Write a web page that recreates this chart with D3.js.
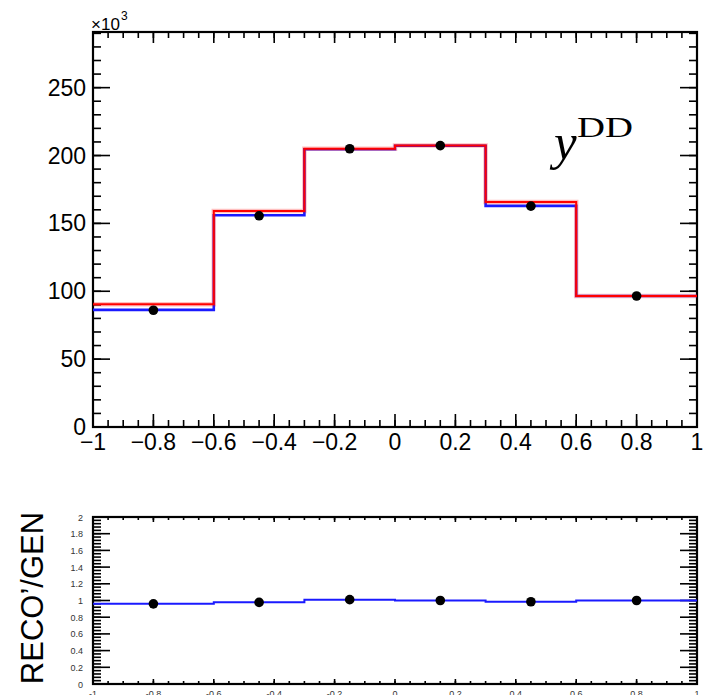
<!DOCTYPE html>
<html>
<head>
<meta charset="utf-8">
<script src="https://cdn.jsdelivr.net/npm/d3@7"></script>
<style>
html,body{margin:0;padding:0;background:#fff;}
svg{display:block;}
</style>
</head>
<body>
<svg id="chart" width="719" height="695"></svg>
<script>
// ---- data ----
const binEdges = [-1, -0.6, -0.3, 0, 0.3, 0.6, 1];
const binCenters = [-0.8, -0.45, -0.15, 0.15, 0.45, 0.8];
const genValues = [90.4, 159.2, 204.9, 207.3, 165.8, 96.5];     // red (x10^3)
const recoValues = [86.3, 156.0, 204.6, 207.2, 162.9, 96.5];    // blue (x10^3)
const dataPoints = [86.0, 155.6, 205.0, 207.3, 162.7, 96.5];    // black points (x10^3)
const ratioValues = [0.96, 0.98, 1.01, 1.00, 0.985, 1.00];      // blue ratio line
const ratioPoints = [0.96, 0.977, 1.01, 1.00, 0.985, 1.00];     // black ratio points
const xTickLabels = ["−1", "−0.8", "−0.6", "−0.4", "−0.2", "0", "0.2", "0.4", "0.6", "0.8", "1"];
const xTickValues = [-1, -0.8, -0.6, -0.4, -0.2, 0, 0.2, 0.4, 0.6, 0.8, 1];
const yTopTicks = [0, 50, 100, 150, 200, 250];
const yBotTicks = [0, 0.2, 0.4, 0.6, 0.8, 1, 1.2, 1.4, 1.6, 1.8, 2];
const yBotTickLabels = ["0", "0.2", "0.4", "0.6", "0.8", "1", "1.2", "1.4", "1.6", "1.8", "2"];
const yTopMax = 291;

const svg = d3.select("#chart");
const FONT = "'Liberation Sans', Arial, Helvetica, sans-serif";

const L = 93, R = 697;
const top1 = 32, bot1 = 427;
const top2 = 517, bot2 = 684;

const x = d3.scaleLinear().domain([-1, 1]).range([L, R]);
const y1 = d3.scaleLinear().domain([0, yTopMax]).range([bot1, top1]);
const y2 = d3.scaleLinear().domain([0, 2]).range([bot2, top2]);

function minorTicks(domainMin, domainMax, step) {
  const n = Math.round((domainMax - domainMin) / step);
  return d3.range(n + 1).map(i => domainMin + i * step);
}

function stepPath(values, ys) {
  let p = `M${x(binEdges[0])},${ys(values[0])}`;
  values.forEach((v, i) => {
    if (i > 0) p += `V${ys(v)}`;
    p += `H${x(binEdges[i + 1])}`;
  });
  return p;
}

function drawFrame(g, yScale, yT, yB, opts) {
  const ticks = g.append("g").attr("stroke", "#000").attr("stroke-width", 1.6);
  minorTicks(yScale.domain()[0], yScale.domain()[1], opts.yMinor).forEach(v => {
    const yy = yScale(v);
    ticks.append("line").attr("x1", L).attr("x2", L + opts.yMinLen).attr("y1", yy).attr("y2", yy);
    ticks.append("line").attr("x1", R).attr("x2", R - opts.yMinLen).attr("y1", yy).attr("y2", yy);
  });
  opts.yMajor.forEach(v => {
    const yy = yScale(v);
    ticks.append("line").attr("x1", L).attr("x2", L + opts.yMajLen).attr("y1", yy).attr("y2", yy);
    ticks.append("line").attr("x1", R).attr("x2", R - opts.yMajLen).attr("y1", yy).attr("y2", yy);
  });
  minorTicks(-1, 1, 0.05).forEach(v => {
    const xx = x(v);
    ticks.append("line").attr("x1", xx).attr("x2", xx).attr("y1", yB).attr("y2", yB - opts.xMinLen);
    ticks.append("line").attr("x1", xx).attr("x2", xx).attr("y1", yT).attr("y2", yT + opts.xMinLenTop);
  });
  xTickValues.forEach(v => {
    const xx = x(v);
    ticks.append("line").attr("x1", xx).attr("x2", xx).attr("y1", yB).attr("y2", yB - opts.xMajLen);
    ticks.append("line").attr("x1", xx).attr("x2", xx).attr("y1", yT).attr("y2", yT + opts.xMajLenTop);
  });
  g.append("rect").attr("x", L).attr("y", yT).attr("width", R - L).attr("height", yB - yT)
    .attr("fill", "none").attr("stroke", "#000").attr("stroke-width", 2.2);
}

// ---------- top panel ----------
const g1 = svg.append("g");
drawFrame(g1, y1, top1, bot1, {
  yMinor: 10, yMajor: yTopTicks, yMinLen: 8, yMajLen: 17,
  xMinLen: 7, xMajLen: 13, xMinLenTop: 6, xMajLenTop: 11
});

g1.append("g").selectAll("text").data(yTopTicks).join("text")
  .attr("x", 86).attr("y", d => y1(d) + 8)
  .attr("text-anchor", "end").attr("font-family", FONT).attr("font-size", 23)
  .text(d => d);
g1.append("g").selectAll("text").data(xTickValues).join("text")
  .attr("x", d => x(d)).attr("y", 450)
  .attr("text-anchor", "middle").attr("font-family", FONT).attr("font-size", 23)
  .text((d, i) => xTickLabels[i]);

// x10^3
g1.append("text").attr("x", 91).attr("y", 30).style("font-family", FONT)
  .style("font-size", "17px").text("×10");
g1.append("text").attr("x", 121).attr("y", 20).style("font-family", FONT)
  .style("font-size", "12px").text("3");

// histograms
g1.append("path").attr("d", stepPath(recoValues, y1)).attr("fill", "none")
  .attr("stroke", "#1a1aff").attr("stroke-width", 2.6);
g1.append("path").attr("d", stepPath(genValues, y1)).attr("fill", "none")
  .attr("stroke", "#ff0000").attr("stroke-opacity", 0.25).attr("stroke-width", 4.5);
g1.append("path").attr("d", stepPath(genValues, y1)).attr("fill", "none")
  .attr("stroke", "#ff0000").attr("stroke-width", 2);
g1.append("g").selectAll("circle").data(dataPoints).join("circle")
  .attr("cx", (d, i) => x(binCenters[i])).attr("cy", d => y1(d)).attr("r", 4.8).attr("fill", "#000");

// y^DD label
const SERIF = "'Liberation Serif', 'Times New Roman', serif";
g1.append("text").attr("x", 554).attr("y", 159).style("font-family", SERIF)
  .style("font-style", "italic").style("font-size", "51px").text("y");
g1.append("text").attr("x", 577).attr("y", 137).style("font-family", SERIF)
  .style("font-size", "29px").attr("textLength", 56).attr("lengthAdjust", "spacingAndGlyphs").text("DD");

// ---------- bottom panel ----------
const g2 = svg.append("g");
drawFrame(g2, y2, top2, bot2, {
  yMinor: 0.04, yMajor: yBotTicks, yMinLen: 8, yMajLen: 17,
  xMinLen: 3, xMajLen: 5, xMinLenTop: 3, xMajLenTop: 5
});

g2.append("g").selectAll("text").data(yBotTicks).join("text")
  .attr("x", 83).attr("y", d => y2(d) + 3.5)
  .attr("text-anchor", "end").attr("font-family", FONT).attr("font-size", 9).attr("fill", "#333")
  .text((d, i) => yBotTickLabels[i]);
g2.append("g").selectAll("text").data(xTickValues).join("text")
  .attr("x", d => x(d)).attr("y", 697)
  .attr("text-anchor", "middle").attr("font-family", FONT).attr("font-size", 9).attr("fill", "#333")
  .text((d, i) => xTickLabels[i].replace("−", "-"));

g2.append("path").attr("d", stepPath(ratioValues, y2)).attr("fill", "none")
  .attr("stroke", "#1a1aff").attr("stroke-width", 2);
g2.append("g").selectAll("circle").data(ratioPoints).join("circle")
  .attr("cx", (d, i) => x(binCenters[i])).attr("cy", d => y2(d)).attr("r", 4.8).attr("fill", "#000");

svg.append("text").attr("transform", "translate(43,598) rotate(-90)")
  .attr("text-anchor", "middle").attr("font-family", FONT).attr("font-size", 31)
  .text("RECO’/GEN");
</script>
</body>
</html>
